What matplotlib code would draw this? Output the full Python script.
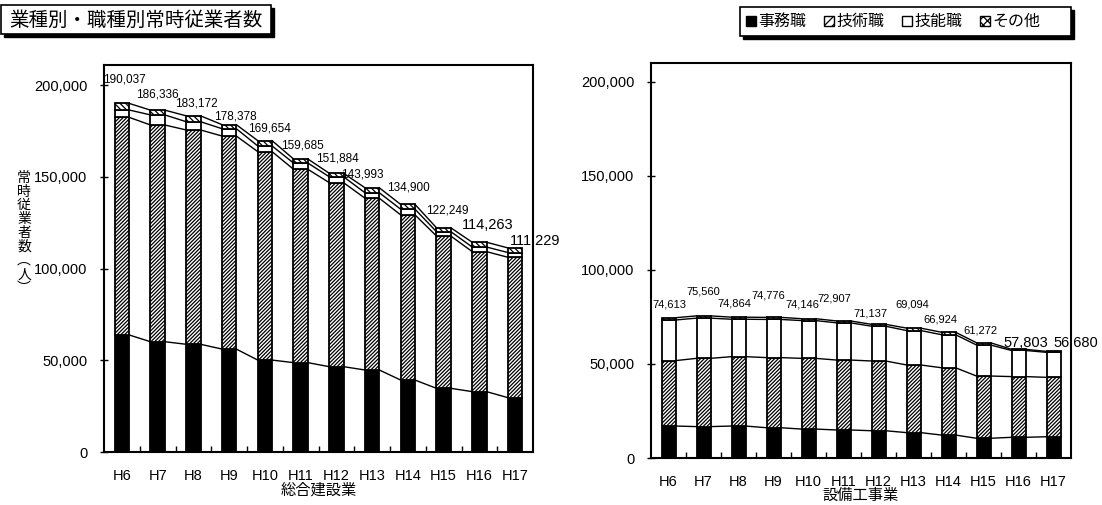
import numpy as np
import matplotlib
matplotlib.use('Agg')
import matplotlib.pyplot as plt
from matplotlib.patches import Rectangle
import matplotlib.transforms as mtransforms

plt.rcParams['font.family'] = ['Liberation Sans', 'Noto Sans CJK JP', 'DejaVu Sans']
plt.rcParams['hatch.linewidth'] = 0.9

# ---------------- data ----------------
years = ['H6', 'H7', 'H8', 'H9', 'H10', 'H11', 'H12', 'H13', 'H14', 'H15', 'H16', 'H17']
series_names = ['事務職', '技術職', '技能職', 'その他']

# 総合建設業
gen_total = [190037, 186336, 183172, 178378, 169654, 159685, 151884, 143993, 134900, 122249, 114263, 111229]
gen_jimu = [63800, 60100, 58700, 56100, 50100, 48700, 46500, 44700, 39200, 34700, 32900, 29600]
gen_gijutsu = [118600, 118100, 116800, 116100, 113600, 105400, 100300, 93600, 90000, 83000, 76300, 76500]
gen_gino = [4000, 5500, 4500, 4000, 3100, 3400, 3200, 3000, 3100, 2400, 2500, 2600]
gen_sonota = [3600, 2600, 3200, 2200, 2900, 2200, 1900, 2700, 2600, 2100, 2600, 2500]

# 設備工事業
equ_total = [74613, 75560, 74864, 74776, 74146, 72907, 71137, 69094, 66924, 61272, 57803, 56680]
equ_jimu = [17000, 16700, 17000, 16100, 15400, 14900, 14500, 13500, 12200, 10500, 11000, 11300]
equ_gijutsu = [34800, 36300, 36900, 37300, 37600, 37200, 37100, 36000, 35800, 33100, 32300, 31600]
equ_gino = [21600, 21400, 19900, 20300, 20100, 19800, 18500, 18300, 17600, 16500, 13900, 13300]
equ_sonota = [1200, 1200, 1100, 1100, 1000, 1000, 1000, 1300, 1300, 1200, 600, 500]

yticks = [0, 50000, 100000, 150000, 200000]

# label placement offsets (category units, persons)
gen_lab_dx = [0.06, -0.02, 0.09, 0.18, 0.13, 0.06, 0.03, -0.27, 0.02, 0.11, 0.22, 0.56]
gen_lab_dy = [12700, 8300, 6500, 4200, 6900, 7600, 8300, 7000, 9500, 9600, 9400, 3800]
equ_lab_dx = [0.04, -0.01, -0.13, -0.16, -0.19, -0.26, -0.22, -0.04, -0.24, -0.10, 0.21, 0.64]
equ_lab_dy = [6800, 12900, 7400, 11900, 7300, 12100, 5900, 12300, 6500, 6800, 3500, 4600]

W, H = 1102, 505
fig = plt.figure(figsize=(W / 100, H / 100), dpi=100)
pix = mtransforms.Affine2D().scale(1 / W, -1 / H).translate(0, 1) + fig.transFigure


def px_axes(l, t, r, b):
    return fig.add_axes([l / W, 1 - b / H, (r - l) / W, (b - t) / H])


styles = [('black', ''), ('white', '/////////'), ('white', ''), ('white', '\\\\\\\\\\\\')]


def draw_panel(ax, layers, totals, dx, dy, small_fs, big_fs, ymax, xlabel):
    n = len(years)
    x = np.arange(n)
    w = 0.4
    cum = np.zeros(n)
    for vals, (fc, hatch) in zip(layers, styles):
        vals = np.asarray(vals, dtype=float)
        ax.bar(x, vals, w, bottom=cum, color=fc, edgecolor='black', hatch=hatch,
               linewidth=1.3, zorder=2)
        cum = cum + vals
        for i in range(n - 1):
            ax.plot([x[i] + w / 2, x[i + 1] - w / 2], [cum[i], cum[i + 1]],
                    color='black', lw=1.0, zorder=3)
    for i in range(n):
        fs = big_fs if i >= n - 2 else small_fs
        ax.text(x[i] + dx[i], totals[i] + dy[i], f'{totals[i]:,}', ha='center', va='center',
                fontsize=fs, zorder=4)
    ax.set_xlim(-0.5, n - 0.5)
    ax.set_ylim(0, ymax)
    ax.set_yticks(yticks)
    ax.set_yticklabels([f'{v:,}' for v in yticks])
    ax.set_xticks(x)
    ax.set_xticklabels(years)
    ax.set_xticks(np.arange(n - 1) + 0.5, minor=True)
    ax.tick_params(axis='x', which='major', length=0, labelsize=10.5, pad=12)
    ax.tick_params(axis='x', which='minor', direction='in', length=4, width=1)
    ax.tick_params(axis='y', direction='inout', length=6, width=1, labelsize=10.5, pad=9)
    for s in ax.spines.values():
        s.set_linewidth(1.5)
    ax.set_xlabel(xlabel, fontsize=11, labelpad=-1, family=['Noto Sans CJK JP'])


ax1 = px_axes(104, 65, 533, 452)
draw_panel(ax1, [gen_jimu, gen_gijutsu, gen_gino, gen_sonota], gen_total,
           gen_lab_dx, gen_lab_dy, 8.5, 10.5, 210900, '総合建設業')

ax2 = px_axes(651, 63, 1071, 458)
draw_panel(ax2, [equ_jimu, equ_gijutsu, equ_gino, equ_sonota], equ_total,
           equ_lab_dx, equ_lab_dy, 8.0, 10.5, 210100, '設備工事業')

# vertical y label
ylab = '常時従業者数︵人︶'
fig.text(24 / W, 1 - 233 / H, '\n'.join(ylab), ha='center', va='center', fontsize=10,
         linespacing=0.98, family=['Noto Sans CJK JP'])

# title box
fig.patches.append(Rectangle((4, 8), 270, 29, transform=pix, facecolor='black', edgecolor='black'))
fig.patches.append(Rectangle((1, 5), 270, 29, transform=pix, facecolor='white', edgecolor='black', lw=1.2))
fig.text(136 / W, 1 - 20 / H, '業種別・職種別常時従業者数', ha='center', va='center',
         fontsize=14, family=['Noto Sans CJK JP'])

# legend box
fig.patches.append(Rectangle((743, 10), 331, 29, transform=pix, facecolor='black', edgecolor='black'))
fig.patches.append(Rectangle((740, 7), 331, 29, transform=pix, facecolor='white', edgecolor='black', lw=1.2))
lx = 746
legend_hatches = ['', '////', '', 'xxxx']
for name, (fc, _), lh in zip(series_names, styles, legend_hatches):
    fig.patches.append(Rectangle((lx, 16), 10, 10, transform=pix, facecolor=fc, edgecolor='black',
                                 hatch=lh, lw=1))
    fig.text((lx + 12) / W, 1 - 21.5 / H, name, ha='left', va='center', fontsize=11.5,
             family=['Noto Sans CJK JP'])
    lx += 78

fig.savefig('out.png', dpi=100)
